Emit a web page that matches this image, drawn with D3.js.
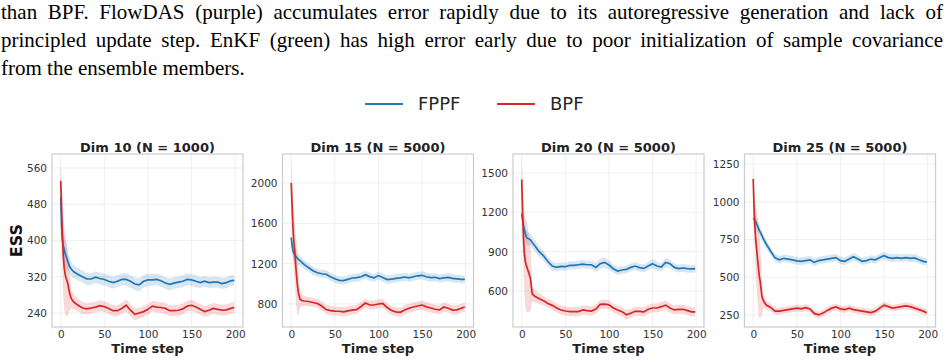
<!DOCTYPE html>
<html lang="en">
<head>
    <meta charset="UTF-8">
    <title>ESS over time</title>
    <style>
        body {
            margin: 0;
            background: #fff;
        }

        svg {
            display: block;
        }
    </style>
</head>
<body>
    <script src="https://d3js.org/d3.v7.min.js"></script>
    <script>
        const paragraph = [
            'than BPF. FlowDAS (purple) accumulates error rapidly due to its autoregressive generation and lack of',
            'principled update step. EnKF (green) has high error early due to poor initialization of sample covariance',
            'from the ensemble members.'
        ]

        const seriesNames = ['FPPF', 'BPF']
        const titles = ['Dim 10 (N = 1000)', 'Dim 15 (N = 5000)', 'Dim 20 (N = 5000)', 'Dim 25 (N = 5000)']

        const steps = [0, 1, 2, 3, 4, 5, 6, 7, 8, 10, 12, 15,
            20, 25, 30, 35, 40, 45, 50, 55, 60, 65, 70, 75, 80, 85, 90, 95, 100,
            105, 110, 115, 120, 125, 130, 135, 140, 145, 150, 155, 160, 165, 170,
            175, 180, 185, 190, 195, 199]

        const xTicks = [0, 50, 100, 150, 200]
        const yTicks10 = [240, 320, 400, 480, 560]
        const yTicks15 = [800, 1200, 1600, 2000]
        const yTicks20 = [600, 900, 1200, 1500]
        const yTicks25 = [250, 500, 750, 1000, 1250]

        // Dim 10
        const fppf10 = [495, 430, 400, 388, 380, 372, 366, 360, 355, 343, 337, 331,
            325, 320, 315, 315, 319, 316, 314, 310, 307, 310, 314, 314, 310, 304, 302, 310, 313,
            313, 314, 311, 306, 303, 306, 308, 310, 314, 313, 310, 307, 310, 307,
            308, 308, 305, 307, 311, 312]
        const fppf10Band = [10, 30, 35, 35, 32, 30, 28, 25, 22, 18, 16, 14,
            14, 13, 13, 13, 13, 13, 13, 13, 13, 13, 13, 14, 14, 14, 14, 14, 14,
            13, 13, 13, 13, 13, 13, 13, 13, 13, 13, 13, 12, 12, 12,
            12, 12, 12, 12, 12, 12]
        const bpf10 = [532, 470, 410, 365, 340, 327, 318, 312, 306, 285, 272, 264,
            257, 251, 249, 251, 253, 256, 254, 250, 245, 245, 250, 257, 246, 237, 240, 243, 248,
            255, 253, 252, 250, 245, 245, 246, 249, 255, 257, 253, 248, 243, 246,
            250, 248, 246, 247, 250, 252]
        const bpf10Band = [38, 70, 85, 90, 90, 88, 85, 80, 72, 40, 22, 16,
            14, 13, 12, 12, 12, 12, 12, 12, 12, 12, 12, 13, 13, 13, 12, 12, 12,
            12, 12, 12, 12, 12, 12, 12, 12, 12, 12, 12, 12, 12, 12,
            12, 12, 12, 12, 12, 12]

        // Dim 15
        const fppf15 = [1460, 1380, 1330, 1305, 1290, 1275, 1265, 1255, 1245, 1230, 1215, 1190,
            1160, 1130, 1110, 1100, 1095, 1070, 1050, 1035, 1032, 1045, 1058, 1062, 1070, 1090, 1072, 1060, 1082,
            1062, 1042, 1046, 1055, 1060, 1068, 1060, 1070, 1080, 1085, 1070, 1062, 1065, 1052,
            1060, 1065, 1055, 1050, 1045, 1045]
        const fppf15Band = [40, 70, 80, 80, 75, 70, 65, 60, 55, 50, 45, 45,
            42, 40, 40, 40, 40, 40, 40, 40, 40, 40, 40, 40, 40, 40, 40, 40, 40,
            40, 40, 40, 40, 40, 40, 40, 40, 40, 40, 40, 40, 40, 40,
            40, 40, 40, 40, 40, 40]
        const bpf15 = [2000, 1780, 1560, 1420, 1330, 1200, 1090, 1000, 920, 850, 835, 830,
            825, 815, 805, 780, 745, 735, 730, 728, 722, 732, 740, 745, 775, 810, 790, 790, 800,
            805, 765, 735, 722, 718, 740, 758, 770, 780, 790, 772, 760, 748, 742,
            770, 758, 740, 742, 758, 770]
        const bpf15Band = [220, 260, 290, 300, 310, 320, 320, 310, 230, 90, 60, 50,
            45, 45, 45, 45, 45, 45, 45, 45, 45, 45, 45, 45, 45, 45, 45, 45, 45,
            45, 45, 45, 45, 45, 45, 45, 45, 45, 45, 45, 45, 45, 45,
            45, 45, 45, 45, 45, 45]

        // Dim 20
        const fppf20 = [1190, 1140, 1100, 1070, 1040, 1015, 1005, 1000, 998, 990, 970, 945,
            900, 868, 825, 790, 780, 788, 785, 795, 795, 800, 805, 800, 800, 780, 808, 818, 798,
            770, 752, 760, 765, 780, 790, 778, 772, 790, 808, 790, 782, 818, 808,
            780, 770, 775, 770, 768, 770]
        const fppf20Band = [30, 60, 70, 70, 65, 60, 55, 52, 50, 48, 45, 42,
            40, 38, 35, 35, 32, 30, 30, 30, 30, 30, 30, 30, 30, 35, 40, 40, 35,
            30, 30, 30, 30, 30, 30, 30, 30, 30, 35, 35, 30, 35, 30,
            30, 30, 30, 30, 30, 30]
        const bpf20 = [1450, 1200, 1010, 890, 830, 800, 780, 760, 740, 695, 578, 560,
            540, 525, 505, 490, 470, 455, 447, 442, 442, 442, 455, 450, 447, 462, 498, 500, 494,
            470, 455, 442, 418, 430, 445, 444, 440, 460, 470, 470, 480, 492, 470,
            455, 460, 460, 450, 440, 440]
        const bpf20Band = [200, 230, 260, 300, 340, 350, 340, 320, 300, 250, 60, 45,
            40, 35, 35, 35, 35, 35, 35, 35, 35, 35, 35, 35, 35, 35, 35, 35, 35,
            35, 35, 35, 35, 35, 35, 35, 35, 35, 35, 35, 35, 35, 35,
            35, 35, 35, 35, 35, 35]

        // Dim 25
        const fppf25 = [890, 885, 878, 865, 850, 838, 825, 810, 800, 775, 750, 718,
            672, 628, 615, 625, 620, 615, 608, 605, 610, 615, 598, 610, 615, 620, 625, 630, 610,
            605, 620, 635, 620, 605, 610, 620, 615, 630, 642, 630, 625, 630, 625,
            630, 625, 628, 615, 605, 600]
        const fppf25Band = [30, 40, 45, 45, 45, 42, 40, 38, 35, 32, 30, 28,
            25, 25, 25, 25, 25, 25, 25, 25, 25, 25, 25, 25, 25, 25, 25, 25, 25,
            25, 25, 25, 25, 25, 25, 25, 25, 25, 25, 25, 25, 25, 25,
            25, 25, 25, 25, 25, 25]
        const bpf25 = [1150, 950, 820, 740, 680, 620, 560, 505, 470, 372, 340, 315,
            300, 275, 275, 280, 285, 290, 295, 290, 298, 290, 260, 250, 262, 280, 295, 303, 290,
            285, 295, 285, 280, 275, 270, 265, 275, 295, 315, 305, 295, 300, 305,
            310, 305, 295, 285, 275, 265]
        const bpf25Band = [80, 150, 200, 240, 260, 280, 290, 275, 240, 120, 45, 30,
            25, 22, 22, 22, 22, 22, 22, 22, 22, 22, 22, 22, 22, 22, 22, 22, 22,
            22, 22, 22, 22, 22, 22, 22, 22, 22, 22, 22, 22, 22, 22,
            22, 22, 22, 22, 22, 22]

        const width = 950
        const height = 362
        const colors = ['#1f77b4', '#d62728']
        const font = 'DejaVu Sans, sans-serif'

        const panels = [
            { title: titles[0], series: [[fppf10, fppf10Band], [bpf10, bpf10Band]], ticks: yTicks10, domain: [209, 591] },
            { title: titles[1], series: [[fppf15, fppf15Band], [bpf15, bpf15Band]], ticks: yTicks15, domain: [572, 2288] },
            { title: titles[2], series: [[fppf20, fppf20Band], [bpf20, bpf20Band]], ticks: yTicks20, domain: [325, 1645] },
            { title: titles[3], series: [[fppf25, fppf25Band], [bpf25, bpf25Band]], ticks: yTicks25, domain: [170, 1316] }
        ]

        const lefts = [52, 282.5, 513, 744.5]
        const pw = 191
        const plotTop = 154
        const ph = 173

        const svg = d3.select('body')
            .append('svg')
            .attr('width', width)
            .attr('height', height)

        // paper text above the figure, justified by stretching the spaces
        svg.selectAll('text.para')
            .data(paragraph)
            .enter()
            .append('text')
            .attr('class', 'para')
            .attr('x', 1)
            .attr('y', (_, i) => 19 + i * 28)
            .attr('font-family', 'Liberation Serif, Times New Roman, serif')
            .attr('font-size', 21)
            .attr('fill', '#000')
            .text(d => d)
            .each(function (d, i) {
                if (i === paragraph.length - 1) return
                const natural = this.getComputedTextLength()
                const gaps = d.split(' ').length - 1
                d3.select(this).attr('word-spacing', Math.max(0, (942 - natural) / gaps))
            })

        // legend
        const legendX = [365, 497]
        const legend = svg.selectAll('g.legend')
            .data(seriesNames)
            .enter()
            .append('g')
            .attr('class', 'legend')
            .attr('transform', (_, i) => `translate(${legendX[i]}, 104)`)
        legend.append('line')
            .attr('x1', 0).attr('x2', 38)
            .attr('stroke', (_, i) => colors[i])
            .attr('stroke-width', 2)
        legend.append('text')
            .attr('x', 53)
            .attr('dy', '0.35em')
            .attr('font-family', font)
            .attr('font-size', 18)
            .attr('fill', '#262626')
            .text(d => d)

        const x = d3.scaleLinear().domain([-10, 209]).range([0, pw])

        panels.forEach((p, k) => {
            const y = d3.scaleLinear().domain(p.domain).range([ph, 0])
            const g = svg.append('g').attr('transform', `translate(${lefts[k]}, ${plotTop})`)

            g.append('clipPath').attr('id', 'clip' + k)
                .append('rect').attr('width', pw).attr('height', ph)

            // grid
            g.selectAll('line.gx').data(xTicks).enter().append('line')
                .attr('x1', d => x(d)).attr('x2', d => x(d))
                .attr('y1', 0).attr('y2', ph)
                .attr('stroke', '#ebebeb').attr('stroke-width', 0.8)
            g.selectAll('line.gy').data(p.ticks).enter().append('line')
                .attr('x1', 0).attr('x2', pw)
                .attr('y1', d => y(d)).attr('y2', d => y(d))
                .attr('stroke', '#ebebeb').attr('stroke-width', 0.8)

            const plot = g.append('g').attr('clip-path', `url(#clip${k})`)

            p.series.forEach(([mean, band], s) => {
                const area = d3.area()
                    .x((_, i) => x(steps[i]))
                    .y0((d, i) => y(d - band[i]))
                    .y1((d, i) => y(d + band[i]))
                plot.append('path')
                    .attr('d', area(mean))
                    .attr('fill', colors[s])
                    .attr('fill-opacity', 0.18)
            })
            p.series.forEach(([mean], s) => {
                const line = d3.line()
                    .x((_, i) => x(steps[i]))
                    .y(d => y(d))
                plot.append('path')
                    .attr('d', line(mean))
                    .attr('fill', 'none')
                    .attr('stroke', colors[s])
                    .attr('stroke-width', 1.7)
            })

            // frame
            g.append('rect')
                .attr('width', pw).attr('height', ph)
                .attr('fill', 'none')
                .attr('stroke', '#cccccc')
                .attr('stroke-width', 1.2)

            const yAxis = g.append('g')
                .call(d3.axisLeft(y).tickValues(p.ticks).tickFormat(d3.format('d')).tickSize(0).tickPadding(5))
            const xAxis = g.append('g')
                .attr('transform', `translate(0, ${ph})`)
                .call(d3.axisBottom(x).tickValues(xTicks).tickFormat(d3.format('d')).tickSize(0).tickPadding(4))
            ;[yAxis, xAxis].forEach(a => {
                a.select('.domain').remove()
                a.selectAll('text')
                    .attr('font-family', font)
                    .attr('font-size', 10.5)
                    .attr('fill', '#333')
            })

            g.append('text')
                .attr('x', pw / 2).attr('y', -2)
                .attr('text-anchor', 'middle')
                .attr('font-family', font)
                .attr('font-size', 13)
                .attr('font-weight', 'bold')
                .attr('fill', '#222')
                .text(p.title)

            g.append('text')
                .attr('x', pw / 2).attr('y', ph + 26)
                .attr('text-anchor', 'middle')
                .attr('font-family', font)
                .attr('font-size', 13)
                .attr('font-weight', 'bold')
                .attr('fill', '#222')
                .text('Time step')

            if (k === 0) {
                g.append('text')
                    .attr('transform', `translate(-36, ${ph / 2}) rotate(-90)`)
                    .attr('text-anchor', 'middle')
                    .attr('dy', '0.35em')
                    .attr('font-family', font)
                    .attr('font-size', 16)
                    .attr('font-weight', 'bold')
                    .attr('fill', '#111')
                    .text('ESS')
            }
        })
    </script>
</body>
</html>
